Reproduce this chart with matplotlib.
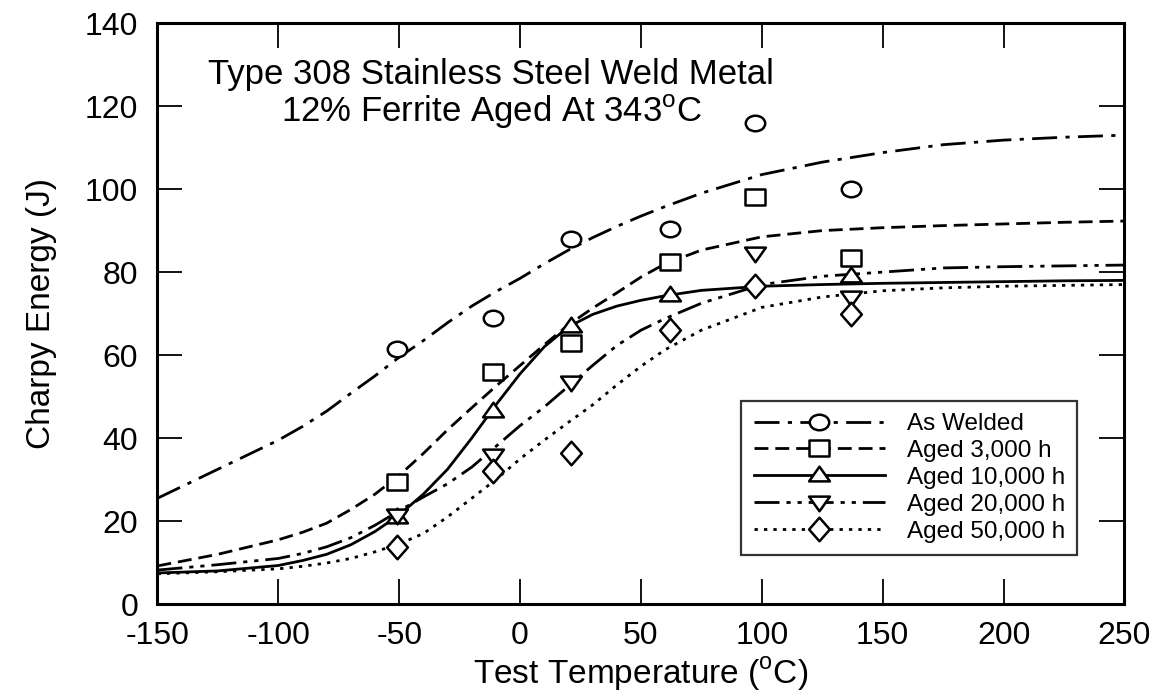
import numpy as np
import matplotlib
matplotlib.use("Agg")
import matplotlib.pyplot as plt
from matplotlib.path import Path
from matplotlib.transforms import Affine2D

plt.rcParams['font.family'] = ['Liberation Sans', 'DejaVu Sans']
plt.rcParams['mathtext.fontset'] = 'custom'
plt.rcParams['mathtext.rm'] = 'Liberation Sans'
plt.rcParams['axes.unicode_minus'] = False

# measured Charpy energies (J)
temps = [-51, -11, 21, 62, 97, 137]
as_welded = [61.5, 69, 88, 90.5, 116, 100]
aged_3000 = [29.5, 56, 63, 82.5, 98, 83.5]
aged_10000_t = [-51, -11, 21, 62, 137]
aged_10000 = [21, 46.5, 67, 74.5, 79]
aged_20000_t = [-51, -11, 21, 97, 137]
aged_20000 = [21.5, 36, 53.5, 84.5, 74]
aged_50000 = [13.8, 32, 36.5, 66, 76.7, 70]

# fitted curves read along the temperature axis
fit_t = [-150, -125, -100, -90, -80, -70, -60, -50, -40, -30, -20, -10, 0, 10, 20, 30, 40,
         50, 60, 75, 100, 125, 150, 175, 200, 225, 250]
fit_welded = [25.5, 32.5, 39.5, 42.8, 46.5, 50.8, 55, 59.5, 63.5, 67.8, 71.8, 75.3, 78.5,
              82, 85.3, 88.3, 91, 93.5, 95.8, 99, 103.5, 106.5, 108.8, 110.7, 111.8,
              112.5, 113]
fit_3000 = [9.2, 12, 15.5, 17.3, 19.5, 22.8, 26.5, 31, 36.3, 42, 47.3, 52.5, 57.5, 62.5,
            67.3, 71.3, 75, 78.8, 82, 85.3, 88.5, 90, 90.7, 91.2, 91.6, 92, 92.3]
fit_10000 = [7.5, 8, 9.3, 10.5, 12, 14.3, 17.5, 21.5, 26.5, 32.5, 40, 48, 55.5, 62, 66.8,
             69.8, 71.8, 73.2, 74.3, 75.6, 76.6, 77, 77.3, 77.5, 77.7, 77.9, 78]
fit_20000 = [8.2, 9.5, 11, 12.2, 13.8, 16, 19, 22.5, 25.8, 29, 33, 38, 43, 47.5, 52.5,
             57.5, 62.3, 66, 68.8, 72.5, 77, 79, 80, 81, 81.3, 81.5, 81.7]
fit_50000 = [7.3, 7.8, 8.5, 9.1, 9.9, 11, 12.6, 14.5, 17, 21, 25.5, 30, 35, 39.5, 43.8,
             48, 52.8, 57.3, 61.3, 66, 71.5, 74, 75.5, 76.2, 76.6, 76.8, 77]

labels = ['As Welded', 'Aged 3,000 h', 'Aged 10,000 h', 'Aged 20,000 h', 'Aged 50,000 h']


def wide(path, sx=1.25):
    # open symbols are a little wider than tall
    return path.transformed(Affine2D().scale(sx, 1.0))


circle = wide(Path.unit_circle())
square = wide(Path.unit_rectangle().transformed(Affine2D().translate(-0.5, -0.5)))
tri_up = wide(Path([(0, 0.9), (-0.85, -0.6), (0.85, -0.6), (0, 0.9)], closed=True))
tri_dn = wide(Path([(0, -0.9), (-0.85, 0.6), (0.85, 0.6), (0, -0.9)], closed=True))
diamond = wide(Path([(0, 1), (0.8, 0), (0, -1), (-0.8, 0), (0, 1)], closed=True), 1.1)

fig = plt.figure(figsize=(11.75, 7.0), dpi=100)
ax = fig.add_axes([0.134, 0.137, 0.823, 0.83])

lw = 2.0
series = [
    (fit_welded, temps, as_welded, circle, 14, (0, (9, 3, 1.5, 3))),
    (fit_3000, temps, aged_3000, square, 14, (0, (5, 2.5))),
    (fit_10000, aged_10000_t, aged_10000, tri_up, 15, '-'),
    (fit_20000, aged_20000_t, aged_20000, tri_dn, 15, (0, (9, 2.5, 1.5, 2.5, 1.5, 2.5))),
    (fit_50000, temps, aged_50000, diamond, 17, (0, (1.2, 2.2))),
]

handles = []
for (fit, xt, yv, mk, msz, ls), lab in zip(series, labels):
    ax.plot(fit_t, fit, color='black', lw=lw, ls=ls, zorder=2)
    ax.plot(xt, yv, ls='none', marker=mk, ms=msz, mfc='white', mec='black',
            mew=1.8, zorder=3)
    h, = ax.plot([], [], color='black', lw=lw, ls=ls, marker=mk, ms=msz,
                 mfc='white', mec='black', mew=1.8)
    handles.append(h)

ax.set_xlim(-150, 250)
ax.set_ylim(0, 140)
ax.set_xticks(np.arange(-150, 251, 50))
ax.set_yticks(np.arange(0, 141, 20))
ax.tick_params(direction='in', length=18, width=1.3, labelsize=23,
               top=True, right=True)
ax.tick_params(axis='x', pad=12)
ax.tick_params(axis='y', pad=14)
for sp in ax.spines.values():
    sp.set_linewidth(2.2)

ax.set_xlabel(r'Test Temperature ($^{\mathrm{o}}$C)', fontsize=24, labelpad=3)
ax.set_ylabel('Charpy Energy (J)', fontsize=24, labelpad=20)

ax.text(-12, 127.5, 'Type 308 Stainless Steel Weld Metal', fontsize=25,
        va='center', ha='center')
ax.text(-12, 118.5, r'12% Ferrite Aged At 343$^{\mathrm{o}}$C', fontsize=25,
        va='center', ha='center')

leg = ax.legend(handles, labels, loc='lower right', bbox_to_anchor=(0.951, 0.085),
                fontsize=17.5, handlelength=5.4, numpoints=1, frameon=True,
                fancybox=False, edgecolor='black', borderpad=0.5, labelspacing=0.2,
                handletextpad=0.9, borderaxespad=0)
leg.get_frame().set_linewidth(1.6)

fig.savefig('out.png', dpi=100)
